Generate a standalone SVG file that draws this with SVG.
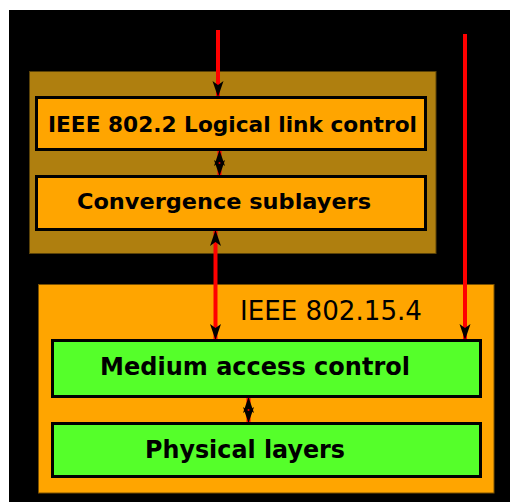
<svg xmlns="http://www.w3.org/2000/svg" width="510" height="502" viewBox="0 0 510 502">
<defs>
<style>
.box{stroke:#000;stroke-width:3}
.lbl{font-family:"DejaVu Sans",Verdana,sans-serif;font-weight:bold;fill:#000;text-anchor:middle}
.ln{stroke:#f00;stroke-width:4;fill:none}
</style>
<marker id="ah" viewBox="-16 -6 18 12" markerWidth="18" markerHeight="12" refX="0" refY="0" orient="auto-start-reverse" markerUnits="userSpaceOnUse">
<path d="M1,0 L-15,-5.5 L-11,0 L-15,5.5 Z" fill="#000"/>
</marker>
</defs>
<rect x="0" y="0" width="510" height="502" fill="#fff"/>
<rect x="9" y="10" width="501" height="492" fill="#000"/>
<g id="upper">
<rect x="29.5" y="71.5" width="406.5" height="182" fill="#af7f0f" stroke="#5a4208" stroke-width="1"/>
</g>
<g id="ieee802154">
<rect x="38.5" y="284.5" width="455.5" height="208.5" fill="#ffa500" stroke="#7a5000" stroke-width="1"/>
<text x="331" y="320" font-family="DejaVu Sans,Verdana,sans-serif" font-size="26" fill="#000" text-anchor="middle" textLength="182" lengthAdjust="spacingAndGlyphs">IEEE 802.15.4</text>
</g>
<g id="llc">
<rect class="box" x="36.5" y="97.5" width="389" height="52" fill="#ffa500"/>
<text class="lbl" x="232.5" y="131.5" font-size="21.8" textLength="369" lengthAdjust="spacingAndGlyphs">IEEE 802.2 Logical link control</text>
</g>
<g id="conv">
<rect class="box" x="36.5" y="176.5" width="389" height="53" fill="#ffa500"/>
<text class="lbl" x="224" y="208.5" font-size="21.8" textLength="294" lengthAdjust="spacingAndGlyphs">Convergence sublayers</text>
</g>
<g id="mac">
<rect class="box" x="52.5" y="340.5" width="428" height="56" fill="#55ff2a"/>
<text class="lbl" x="255" y="375" font-size="24" textLength="310" lengthAdjust="spacingAndGlyphs">Medium access control</text>
</g>
<g id="phy">
<rect class="box" x="52.5" y="423.5" width="428" height="53" fill="#55ff2a"/>
<text class="lbl" x="245" y="458" font-size="24" textLength="200" lengthAdjust="spacingAndGlyphs">Physical layers</text>
</g>
<g id="connectors">
<line class="ln" x1="218" y1="30" x2="218" y2="96" marker-end="url(#ah)"/>
<line class="ln" x1="465" y1="34" x2="465" y2="339" marker-end="url(#ah)"/>
<line class="ln" x1="219.5" y1="151" x2="219.5" y2="175" marker-start="url(#ah)" marker-end="url(#ah)"/>
<line class="ln" x1="215.5" y1="231" x2="215.5" y2="339" marker-start="url(#ah)" marker-end="url(#ah)"/>
<line class="ln" x1="248.5" y1="398" x2="248.5" y2="422" marker-start="url(#ah)" marker-end="url(#ah)"/>
</g>
</svg>
